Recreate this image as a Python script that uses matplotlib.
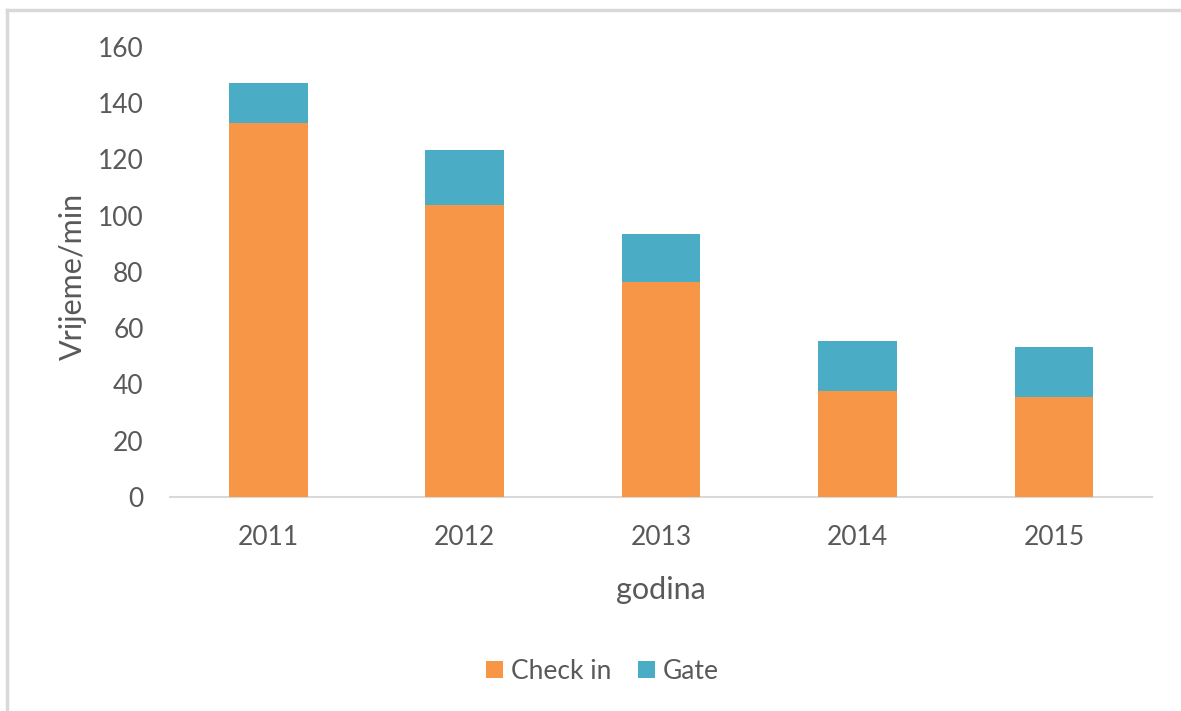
import matplotlib.pyplot as plt
from matplotlib.lines import Line2D

# years and times in minutes
years = ["2011", "2012", "2013", "2014", "2015"]
check_in = [132.9, 103.7, 76.3, 37.7, 35.4]
gate = [14.4, 19.7, 17.3, 17.9, 17.8]

orange = "#F79646"
blue = "#4BACC6"
text_grey = "#595959"

plt.rcParams['font.family'] = ['Lato', 'DejaVu Sans']

fig = plt.figure(figsize=(11.81, 7.11), dpi=100)
ax = fig.add_axes([0.144, 0.301, 0.8315, 0.633])

x = list(range(len(years)))
ax.bar(x, check_in, width=0.4, color=orange, label="Check in", zorder=3)
ax.bar(x, gate, width=0.4, bottom=check_in, color=blue, label="Gate", zorder=3)

ax.set_xlim(-0.5, len(years) - 0.5)
ax.set_ylim(0, 160)
ax.set_yticks(range(0, 161, 20))
ax.set_xticks(x)
ax.set_xticklabels(years)

for side in ["top", "right", "left"]:
    ax.spines[side].set_visible(False)
ax.spines["bottom"].set_color("#D9D9D9")
ax.spines["bottom"].set_linewidth(1.5)
ax.tick_params(axis="both", length=0, labelsize=19, labelcolor=text_grey)
ax.tick_params(axis="y", pad=19)
ax.tick_params(axis="x", pad=20)

ax.set_xlabel("godina", fontsize=22, color=text_grey)
ax.set_ylabel("Vrijeme/min", fontsize=22, color=text_grey)
ax.xaxis.set_label_coords(0.5, -0.175)
ax.yaxis.set_label_coords(-0.085, 0.49)

ax.legend(loc="center", bbox_to_anchor=(0.44, -0.387), ncol=2, frameon=False,
          fontsize=19, labelcolor=text_grey, handlelength=0.65, handleheight=0.65,
          handletextpad=0.3, columnspacing=1.0)

# light grey frame line on top and left, like the screenshot
fig.add_artist(Line2D([7 / 1181, 1.0], [1 - 10 / 711, 1 - 10 / 711],
                      transform=fig.transFigure, color="#D9D9D9", lw=2.5))
fig.add_artist(Line2D([7 / 1181, 7 / 1181], [0.0, 1 - 10 / 711],
                      transform=fig.transFigure, color="#D9D9D9", lw=2.5))

fig.savefig("out.png", dpi=100)
